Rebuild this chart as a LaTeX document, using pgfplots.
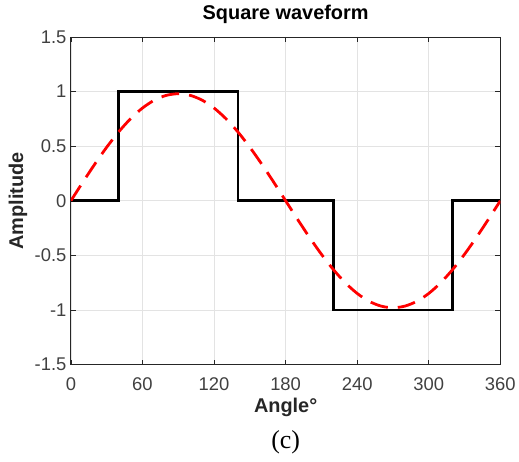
\documentclass[border=0pt]{standalone}
\usepackage{fontspec}
\setmainfont{Liberation Sans}
\newfontfamily\capfont{Liberation Serif}
\usepackage{pgfplots}
\pgfplotsset{compat=1.18}
\usetikzlibrary{calc}
\definecolor{axgray}{HTML}{262626}
\definecolor{lblgray}{HTML}{404040}
\definecolor{wavered}{HTML}{FF0000}

\begin{document}
\begin{tikzpicture}
\begin{axis}[
  scale only axis,
  width=430bp,
  height=328bp,
  xmin=0, xmax=360,
  ymin=-1.5, ymax=1.5,
  xtick={0,60,...,360},
  ytick={-1.5,-1,...,1.5},
  tick align=inside,
  major tick length=5bp,
  grid=major,
  grid style={gray!22, line width=0.6pt},
  axis line style={draw=axgray, line width=0.9pt},
  tick style={draw=axgray, line width=0.8pt},
  /pgf/number format/assume math mode=true,
  tick label style={font=\fontsize{18.5}{20}\selectfont, text=lblgray},
  xticklabel style={anchor=center, yshift=-20bp},
  yticklabel style={anchor=east, xshift=-1bp},
  title={\textbf{Square waveform}},
  title style={font=\fontsize{20}{22}\selectfont, at={(0.5,1)}, anchor=center, yshift=17bp},
  xlabel={\textbf{Angle°}},
  ylabel={\textbf{Amplitude}},
  xlabel style={font=\fontsize{20}{22}\selectfont, text=axgray, at={(0.5,0)}, anchor=center, yshift=-43bp},
  ylabel style={font=\fontsize{20}{22}\selectfont, text=axgray, at={(0,0.5)}, anchor=center, yshift=53bp},
]
\addplot[black, line width=2.8pt, line join=miter] coordinates {
  (0,0) (40,0) (40,1) (140,1) (140,0) (220,0) (220,-1) (320,-1) (320,0) (360,0)
};
\addplot[wavered, line width=2.8pt, dash pattern=on 18bp off 10bp, smooth] coordinates {
  (0,0) (10,0.170) (20,0.335) (30,0.490) (40,0.630) (50,0.751) (60,0.849)
  (70,0.921) (80,0.965) (90,0.980) (100,0.965) (110,0.921) (120,0.849)
  (130,0.751) (140,0.630) (150,0.490) (160,0.335) (170,0.170) (180,0)
  (190,-0.170) (200,-0.335) (210,-0.490) (220,-0.630) (230,-0.751) (240,-0.849)
  (250,-0.921) (260,-0.965) (270,-0.980) (280,-0.965) (290,-0.921) (300,-0.849)
  (310,-0.751) (320,-0.630) (330,-0.490) (340,-0.335) (350,-0.170) (360,0)
};
\end{axis}
\node[font=\capfont\fontsize{26}{28}\selectfont] at ($(current axis.south)+(0,-78bp)$) {(c)};
\useasboundingbox ($(current axis.south west)+(-71bp,-97bp)$) rectangle ($(current axis.south west)+(448bp,365bp)$);
\end{tikzpicture}
\end{document}
